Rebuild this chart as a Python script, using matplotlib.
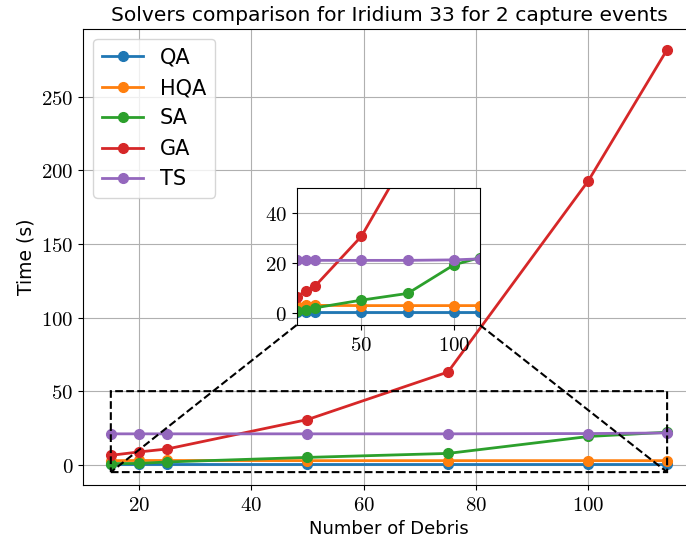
import matplotlib
matplotlib.use("Agg")
import matplotlib.pyplot as plt
from matplotlib.ticker import FuncFormatter

plt.rcParams["mathtext.fontset"] = "cm"

n_debris = [15, 20, 25, 50, 75, 100, 114]
solvers = ["QA", "HQA", "SA", "GA", "TS"]
time_qa = [0.3, 0.3, 0.3, 0.3, 0.3, 0.3, 0.3]
time_hqa = [2.8, 2.9, 2.9, 2.8, 2.8, 2.8, 2.8]
time_sa = [0.8, 0.9, 1.9, 5.0, 7.7, 19.2, 22.1]
time_ga = [6.4, 8.7, 10.7, 30.7, 63.0, 193.0, 282.0]
time_ts = [21.0, 21.0, 21.0, 21.0, 21.0, 21.2, 21.6]
all_times = [time_qa, time_hqa, time_sa, time_ga, time_ts]

tick_fmt = FuncFormatter(lambda v, _: f"${v:g}$")

fig = plt.figure(figsize=(6.86, 5.45), dpi=100)
ax = fig.add_axes([0.121, 0.110, 0.892, 0.837])
for name, t in zip(solvers, all_times):
    ax.plot(n_debris, t, marker="o", lw=2, ms=7, label=name)
ax.grid(True)
ax.xaxis.set_major_formatter(tick_fmt)
ax.yaxis.set_major_formatter(tick_fmt)
ax.tick_params(labelsize=15)
ax.set_xlabel("Number of Debris", fontsize=13)
ax.set_ylabel("Time (s)", fontsize=13.5)
ax.set_title("Solvers comparison for Iridium 33 for 2 capture events", fontsize=14.6)
ax.legend(loc="upper left", fontsize=15)

# zoomed view of the low-time region
axins = fig.add_axes([0.4325, 0.4037, 0.267, 0.2508])
for t in all_times:
    axins.plot(n_debris, t, marker="o", lw=2, ms=7)
axins.set_xlim(15, 114)
axins.set_ylim(-5, 50)
axins.grid(True)
axins.xaxis.set_major_formatter(tick_fmt)
axins.yaxis.set_major_formatter(tick_fmt)
axins.tick_params(labelsize=15)

ind = ax.indicate_inset_zoom(axins, edgecolor="black", linestyle="--", lw=1.5, alpha=1)
# only the two lower connectors are drawn
for i, conn in enumerate(ind.connectors):
    conn.set_visible(i in (0, 2))
    conn.set_linestyle("--")
    conn.set_linewidth(1.5)
    conn.set_color("black")

fig.savefig("out.png", dpi=100)
